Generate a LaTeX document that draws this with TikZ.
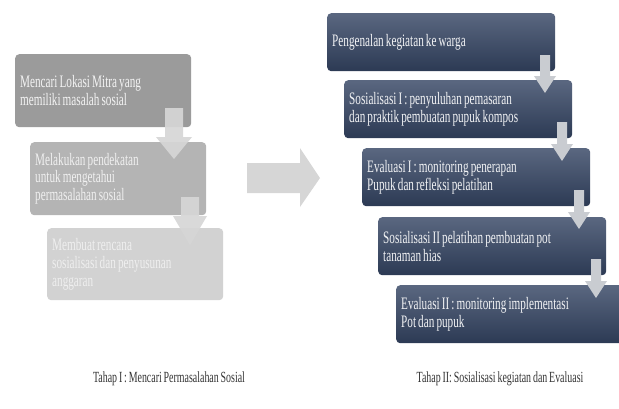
\documentclass[tikz,border=0pt]{standalone}
\usepackage{fontspec}
\setmainfont{Liberation Serif}
\newfontfamily\boxfont[FakeStretch=0.64,WordSpace=0.75]{Liberation Serif}
\usetikzlibrary{positioning}

\definecolor{navytop}{HTML}{5A6780}
\definecolor{navybot}{HTML}{2C3A54}
\definecolor{greyA}{HTML}{9B9B9B}
\definecolor{greyB}{HTML}{B4B4B4}
\definecolor{greyC}{HTML}{D2D2D2}
\definecolor{arrowgrey}{HTML}{D6D6D6}
\definecolor{arrowblue}{HTML}{C9CCD1}

\tikzset{
    stage/.style={anchor=north west, rounded corners=4pt, inner xsep=5pt, inner ysep=0pt,
        align=flush left, font=\boxfont\fontsize{17.5}{17.8}\selectfont},
    leftbox/.style={stage, minimum height=73pt, text width=166pt},
    rightbox/.style={stage, minimum height=58pt, text width=218pt, text=white!92!navytop,
        top color=navytop, bottom color=navybot},
    caption/.style={font=\boxfont\fontsize{15.5}{17}\selectfont, text=black!80}
}

\begin{document}
\begin{tikzpicture}[x=1pt,y=-1pt]
        \useasboundingbox (0,0) rectangle (619,408);
        \clip (0,0) rectangle (619,408);
        % tahap I
        \node[leftbox, fill=greyA, text=white!88!greyA] (cari) at (15,54) {Mencari Lokasi Mitra yang\\memiliki masalah sosial};
        \node[leftbox, fill=greyB, text=white!80!greyB] (dekat) at (30,142) {Melakukan pendekatan\\untuk mengetahui\\permasalahan sosial};
        \node[leftbox, fill=greyC, text=white!65!greyC, minimum height=72pt] (rencana) at (47,228) {Membuat rencana\\sosialisasi dan penyusunan\\anggaran};
        \fill[arrowgrey, opacity=0.92] (165,108) -- (183,108) -- (183,137) -- (192,137) -- (174,159) -- (156,137) -- (165,137) -- cycle;
        \fill[arrowgrey, opacity=0.92] (181,197) -- (199,197) -- (199,216) -- (207,216) -- (190,245) -- (173,216) -- (181,216) -- cycle;
        % panah besar
        \fill[arrowgrey] (247,163) -- (300,163) -- (300,148) -- (320,178) -- (300,207) -- (300,193) -- (247,193) -- cycle;
        % tahap II
        \node[rightbox] (kenal) at (327,13) {Pengenalan kegiatan ke warga};
        \node[rightbox] (sos1) at (344,80) {Sosialisasi I : penyuluhan pemasaran\\dan praktik pembuatan pupuk kompos};
        \node[rightbox] (eval1) at (362,148) {Evaluasi I : monitoring penerapan\\Pupuk dan refleksi pelatihan};
        \node[rightbox] (sos2) at (378,217) {Sosialisasi II pelatihan pembuatan pot\\tanaman hias};
        \node[rightbox] (eval2) at (396,285) {Evaluasi II : monitoring implementasi\\Pot dan pupuk};
        \fill[arrowblue] (540,55) -- (550,55) -- (550,76) -- (556,76) -- (545,93) -- (534,76) -- (540,76) -- cycle;
        \fill[arrowblue] (557,122) -- (567,122) -- (567,144) -- (573,144) -- (562,161) -- (551,144) -- (557,144) -- cycle;
        \fill[arrowblue] (574,190) -- (584,190) -- (584,212) -- (590,212) -- (579,229) -- (568,212) -- (574,212) -- cycle;
        \fill[arrowblue] (591,259) -- (601,259) -- (601,281) -- (607,281) -- (596,298) -- (585,281) -- (591,281) -- cycle;
        % judul
        \node[caption] (tahap1) at (169,379) {Tahap I : Mencari Permasalahan Sosial};
        \node[caption] (tahap2) at (500,379) {Tahap II: Sosialisasi kegiatan dan Evaluasi};
    \end{tikzpicture}
\end{document}
